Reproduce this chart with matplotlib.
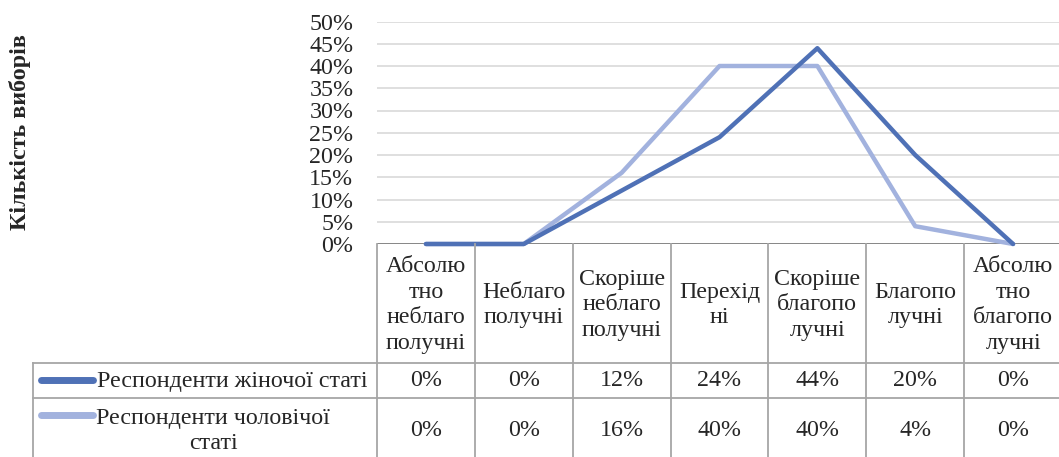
import matplotlib
matplotlib.use("Agg")
import matplotlib.pyplot as plt
from matplotlib import transforms
from matplotlib.lines import Line2D
from matplotlib.ticker import PercentFormatter

plt.rcParams['font.family'] = ['Liberation Serif', 'DejaVu Serif']

# data
categories = ["Абсолю\nтно\nнеблаго\nполучні", "Неблаго\nполучні", "Скоріше\nнеблаго\nполучні",
              "Перехід\nні", "Скоріше\nблагопо\nлучні", "Благопо\nлучні", "Абсолю\nтно\nблагопо\nлучні"]
series_names = ["Респонденти жіночої статі", "Респонденти чоловічої\nстаті"]
female = [0.00, 0.00, 0.12, 0.24, 0.44, 0.20, 0.00]
male = [0.00, 0.00, 0.16, 0.40, 0.40, 0.04, 0.00]
y_ticks = [0, 0.05, 0.10, 0.15, 0.20, 0.25, 0.30, 0.35, 0.40, 0.45, 0.50]

W, H = 1059, 457
FS = 17.3
dark = "#4f71b6"
light = "#a2b2de"
grid_c = "#d9d9d9"
border_c = "#a6a6a6"
text_c = "#262626"

fig = plt.figure(figsize=(W / 100, H / 100), dpi=100)
# plot area in pixels: x 377..1062, y 21.5..244
ax = fig.add_axes([377 / W, (H - 244) / H, (1062 - 377) / W, (244 - 21.5) / H])
ax.set_xlim(-0.5, len(categories) - 0.5)
ax.set_ylim(0, 0.5)
for s in ax.spines.values():
    s.set_visible(False)
ax.set_yticks(y_ticks)
ax.yaxis.set_major_formatter(PercentFormatter(1.0, decimals=0))
ax.tick_params(axis='y', length=0, pad=17, labelsize=FS, labelcolor=text_c)
ax.set_xticks([])
ax.grid(axis='y', color=grid_c, linewidth=1.2)
ax.set_axisbelow(True)
ax.axhline(0, color="#7f7f7f", linewidth=2, zorder=1)

xs = list(range(len(categories)))
ax.plot(xs, male, color=light, linewidth=3.2, solid_capstyle='round', zorder=3, clip_on=False)
ax.plot(xs, female, color=dark, linewidth=3.2, solid_capstyle='round', zorder=4, clip_on=False)

fig.text(20 / W, 1 - 132 / H, "Кількість виборів", rotation=90, ha='center', va='center',
         fontsize=FS, fontweight='bold', color=text_c)

# data table below the plot: x in category units, y in pixels from the top
ypx = transforms.Affine2D().scale(1, -1 / H).translate(0, 1) + fig.transFigure
tr = transforms.blended_transform_factory(ax.transData, ypx)
figpx = transforms.Affine2D().scale(1 / W, -1 / H).translate(0, 1) + fig.transFigure

row_top, row1, row2, row_end = 244, 363, 398, 470
for i in range(len(categories) + 1):
    fig.add_artist(Line2D([i - 0.5, i - 0.5], [row_top, row_end], transform=tr,
                          color=border_c, linewidth=1.3))
for yy in (row1, row2):
    fig.add_artist(Line2D([33, 1062], [yy, yy], transform=figpx, color=border_c, linewidth=1.3))
fig.add_artist(Line2D([33, 33], [row1, row_end], transform=figpx, color=border_c, linewidth=1.3))

for i, c in enumerate(categories):
    fig.text(i, 305, c, transform=tr, ha='center', va='center', fontsize=FS,
             color=text_c, linespacing=1.3)
    fig.text(i, 381, f"{female[i] * 100:.0f}%", transform=tr, ha='center', va='center',
             fontsize=FS, color=text_c)
    fig.text(i, 431, f"{male[i] * 100:.0f}%", transform=tr, ha='center', va='center',
             fontsize=FS, color=text_c)

# legend keys in the table
fig.add_artist(Line2D([41, 93], [380, 380], transform=figpx, color=dark, linewidth=5,
                      solid_capstyle='round'))
fig.add_artist(Line2D([41, 93], [415, 415], transform=figpx, color=light, linewidth=5,
                      solid_capstyle='round'))
fig.text(97, 381, series_names[0], transform=figpx, ha='left', va='center', fontsize=FS, color=text_c)
fig.text(213, 431, series_names[1], transform=figpx, ha='center', va='center', fontsize=FS,
         color=text_c, multialignment='center', linespacing=1.28)

fig.savefig("out.png", dpi=100)
